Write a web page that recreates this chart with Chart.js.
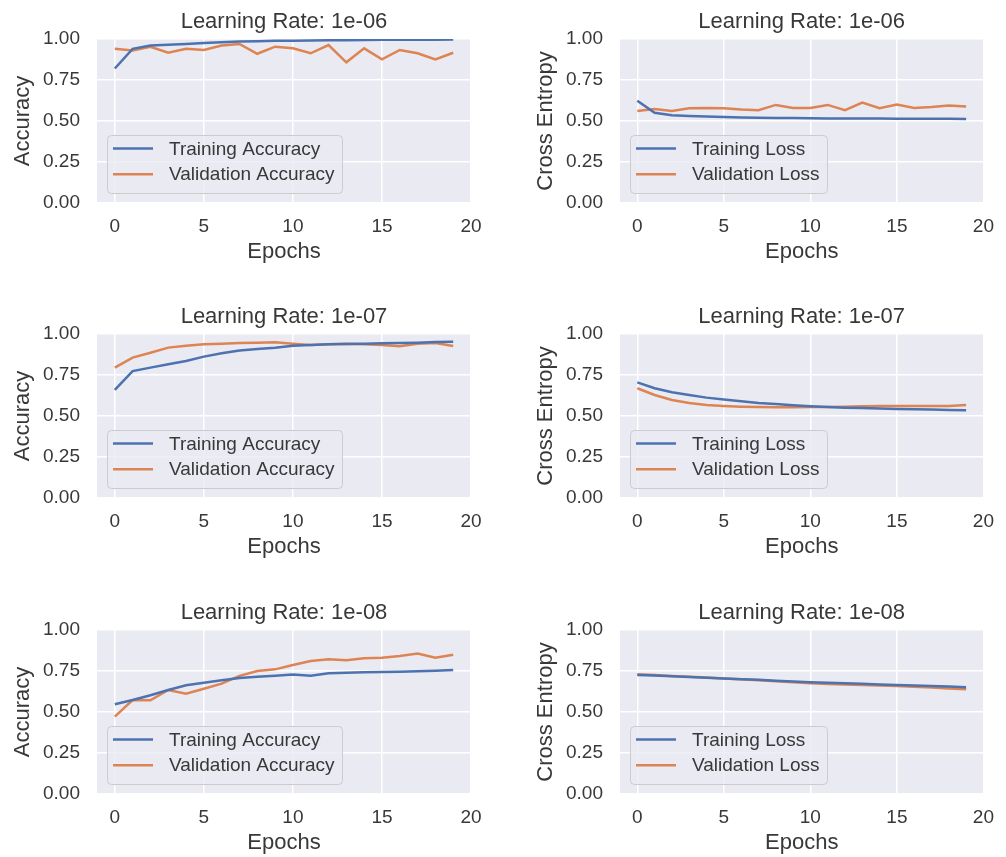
<!DOCTYPE html>
<html>
<head>
<meta charset="utf-8">
<script src="https://cdn.jsdelivr.net/npm/chart.js@4.4.1/dist/chart.umd.min.js"></script>
<style>
  html, body { margin: 0; padding: 0; background: #fff; overflow: hidden; }
  #wrap { position: relative; width: 1006px; height: 857px; }
  #wrap canvas { position: absolute; }
</style>
</head>
<body>
<div id="wrap"></div>
<script>
// data
const epochs = [0, 1, 2, 3, 4, 5, 6, 7, 8, 9, 10, 11, 12, 13, 14, 15, 16, 17, 18, 19];
const xTicks = [0, 5, 10, 15, 20];
const yTicks = [0, 0.25, 0.5, 0.75, 1.0];
const learningRates = ['1e-06', '1e-07', '1e-08'];

const trainAcc6 = [0.82, 0.94, 0.96, 0.965, 0.97, 0.975, 0.98, 0.984, 0.987, 0.989, 0.99, 0.991, 0.992, 0.993, 0.994, 0.995, 0.995, 0.996, 0.996, 0.997];
const valAcc6 = [0.94, 0.93, 0.953, 0.916, 0.94, 0.933, 0.96, 0.97, 0.91, 0.953, 0.943, 0.913, 0.963, 0.858, 0.943, 0.876, 0.933, 0.913, 0.876, 0.916];
const trainLoss6 = [0.624, 0.55, 0.535, 0.53, 0.527, 0.524, 0.522, 0.52, 0.519, 0.518, 0.517, 0.516, 0.516, 0.515, 0.515, 0.514, 0.514, 0.513, 0.513, 0.512];
const valLoss6 = [0.561, 0.573, 0.561, 0.577, 0.58, 0.578, 0.57, 0.566, 0.598, 0.58, 0.58, 0.598, 0.566, 0.612, 0.578, 0.6, 0.58, 0.585, 0.594, 0.588];

const trainAcc7 = [0.659, 0.774, 0.795, 0.815, 0.835, 0.862, 0.882, 0.9, 0.909, 0.916, 0.929, 0.933, 0.937, 0.939, 0.941, 0.943, 0.945, 0.947, 0.951, 0.953];
const valAcc7 = [0.795, 0.856, 0.886, 0.917, 0.929, 0.937, 0.941, 0.945, 0.947, 0.949, 0.941, 0.933, 0.937, 0.941, 0.937, 0.933, 0.925, 0.941, 0.945, 0.927];
const trainLoss7 = [0.705, 0.669, 0.645, 0.628, 0.612, 0.6, 0.59, 0.579, 0.573, 0.565, 0.559, 0.555, 0.551, 0.549, 0.545, 0.543, 0.541, 0.539, 0.537, 0.535];
const valLoss7 = [0.669, 0.628, 0.598, 0.579, 0.567, 0.561, 0.557, 0.555, 0.553, 0.553, 0.555, 0.555, 0.557, 0.559, 0.561, 0.561, 0.561, 0.561, 0.561, 0.567];

const trainAcc8 = [0.547, 0.573, 0.602, 0.634, 0.663, 0.679, 0.693, 0.707, 0.715, 0.721, 0.728, 0.721, 0.736, 0.74, 0.742, 0.744, 0.746, 0.748, 0.752, 0.756];
const valAcc8 = [0.472, 0.573, 0.571, 0.634, 0.612, 0.642, 0.673, 0.72, 0.75, 0.76, 0.787, 0.811, 0.821, 0.815, 0.827, 0.831, 0.841, 0.856, 0.831, 0.849];
const trainLoss8 = [0.726, 0.722, 0.718, 0.714, 0.709, 0.705, 0.7, 0.696, 0.691, 0.686, 0.681, 0.678, 0.675, 0.672, 0.668, 0.665, 0.662, 0.659, 0.655, 0.651];
const valLoss8 = [0.73, 0.725, 0.72, 0.715, 0.71, 0.705, 0.699, 0.693, 0.687, 0.681, 0.675, 0.671, 0.668, 0.665, 0.662, 0.659, 0.654, 0.649, 0.643, 0.638];

const BLUE = '#4C72B0';
const ORANGE = '#DD8452';
const TEXT = '#383838';
const FONT = '"Liberation Sans", Arial, sans-serif';

// panel geometry (px)
const cols = [
  { left: 0, width: 500, axisW: 97, padRight: 29, titlePad: 10 },
  { left: 503, width: 503, axisW: 117, padRight: 12, titlePad: 30 }
];
const rowTops = [0, 295, 591];
const CANVAS_H = 267;

// grey plot background like seaborn darkgrid
const areaBg = {
  id: 'areaBg',
  beforeDraw(chart) {
    const { ctx, chartArea: a } = chart;
    ctx.save();
    ctx.fillStyle = '#EAEAF2';
    ctx.fillRect(a.left, a.top, a.right - a.left, a.bottom - a.top);
    ctx.restore();
  }
};

// legend box in the lower left corner of the plot
const innerLegend = {
  id: 'innerLegend',
  afterDatasetsDraw(chart) {
    const { ctx, chartArea: a } = chart;
    const sets = chart.data.datasets;
    ctx.save();
    ctx.font = '19px ' + FONT;
    const textW = Math.max(...sets.map(d => ctx.measureText(d.label).width));
    const w = Math.round(62 + textW + 8), h = 58;
    const x = Math.round(a.left + 10), y = Math.round(a.bottom - 10 - h);
    ctx.beginPath();
    ctx.roundRect(x + 0.5, y + 0.5, w, h, 4);
    ctx.fillStyle = 'rgba(234,234,242,0.8)';
    ctx.fill();
    ctx.strokeStyle = '#cccccc';
    ctx.lineWidth = 1;
    ctx.stroke();
    sets.forEach((d, i) => {
      const ly = y + 13.5 + i * 25.7;
      ctx.beginPath();
      ctx.moveTo(x + 6, ly);
      ctx.lineTo(x + 46, ly);
      ctx.strokeStyle = d.borderColor;
      ctx.lineWidth = 2.5;
      ctx.stroke();
      ctx.fillStyle = TEXT;
      ctx.textBaseline = 'middle';
      ctx.textAlign = 'left';
      ctx.fillText(d.label, x + 62, ly + 1);
    });
    ctx.restore();
  }
};

function points(vals) {
  return epochs.map((e, i) => ({ x: e, y: vals[i] }));
}

function drawPanel(row, col, kind, train, val) {
  const g = cols[col];
  const canvas = document.createElement('canvas');
  canvas.width = g.width;
  canvas.height = CANVAS_H;
  canvas.style.left = g.left + 'px';
  canvas.style.top = rowTops[row] + 'px';
  document.getElementById('wrap').appendChild(canvas);

  const isAcc = kind === 'acc';
  new Chart(canvas.getContext('2d'), {
    type: 'line',
    data: {
      datasets: [
        { label: isAcc ? 'Training Accuracy' : 'Training Loss', data: points(train),
          borderColor: BLUE, borderWidth: 2.5, pointRadius: 0, tension: 0 },
        { label: isAcc ? 'Validation Accuracy' : 'Validation Loss', data: points(val),
          borderColor: ORANGE, borderWidth: 2.5, pointRadius: 0, tension: 0 }
      ]
    },
    options: {
      responsive: false,
      animation: false,
      layout: { padding: { left: 0, right: g.padRight, top: 0, bottom: 0 } },
      plugins: {
        legend: { display: false },
        tooltip: { enabled: false },
        title: {
          display: true,
          text: 'Learning Rate: ' + learningRates[row],
          fullSize: false,
          color: TEXT,
          font: { family: FONT, size: 22, weight: 'normal' },
          padding: { top: 8.5, bottom: 4.1 }
        }
      },
      scales: {
        x: {
          type: 'linear',
          min: -1,
          max: 20,
          afterFit: s => { s.height = 64; },
          afterBuildTicks: s => { s.ticks = xTicks.map(v => ({ value: v })); },
          grid: { color: '#ffffff', lineWidth: 1.5, drawTicks: false },
          border: { display: false },
          ticks: { color: TEXT, padding: 12, maxRotation: 0, font: { family: FONT, size: 19 } },
          title: { display: true, text: 'Epochs', color: TEXT,
                   font: { family: FONT, size: 22 }, padding: { top: 0, bottom: 2 } }
        },
        y: {
          min: 0,
          max: 1,
          afterFit: s => { s.width = g.axisW; },
          afterBuildTicks: s => { s.ticks = yTicks.map(v => ({ value: v })); },
          grid: { color: '#ffffff', lineWidth: 1.5, drawTicks: false },
          border: { display: false },
          ticks: { color: TEXT, padding: 17, font: { family: FONT, size: 19 },
                   callback: v => Number(v).toFixed(2) },
          title: { display: true, text: isAcc ? 'Accuracy' : 'Cross Entropy', color: TEXT,
                   font: { family: FONT, size: 22 }, padding: { top: g.titlePad, bottom: 0 } }
        }
      }
    },
    plugins: [areaBg, innerLegend]
  });
}

drawPanel(0, 0, 'acc', trainAcc6, valAcc6);
drawPanel(0, 1, 'loss', trainLoss6, valLoss6);
drawPanel(1, 0, 'acc', trainAcc7, valAcc7);
drawPanel(1, 1, 'loss', trainLoss7, valLoss7);
drawPanel(2, 0, 'acc', trainAcc8, valAcc8);
drawPanel(2, 1, 'loss', trainLoss8, valLoss8);
</script>
</body>
</html>
